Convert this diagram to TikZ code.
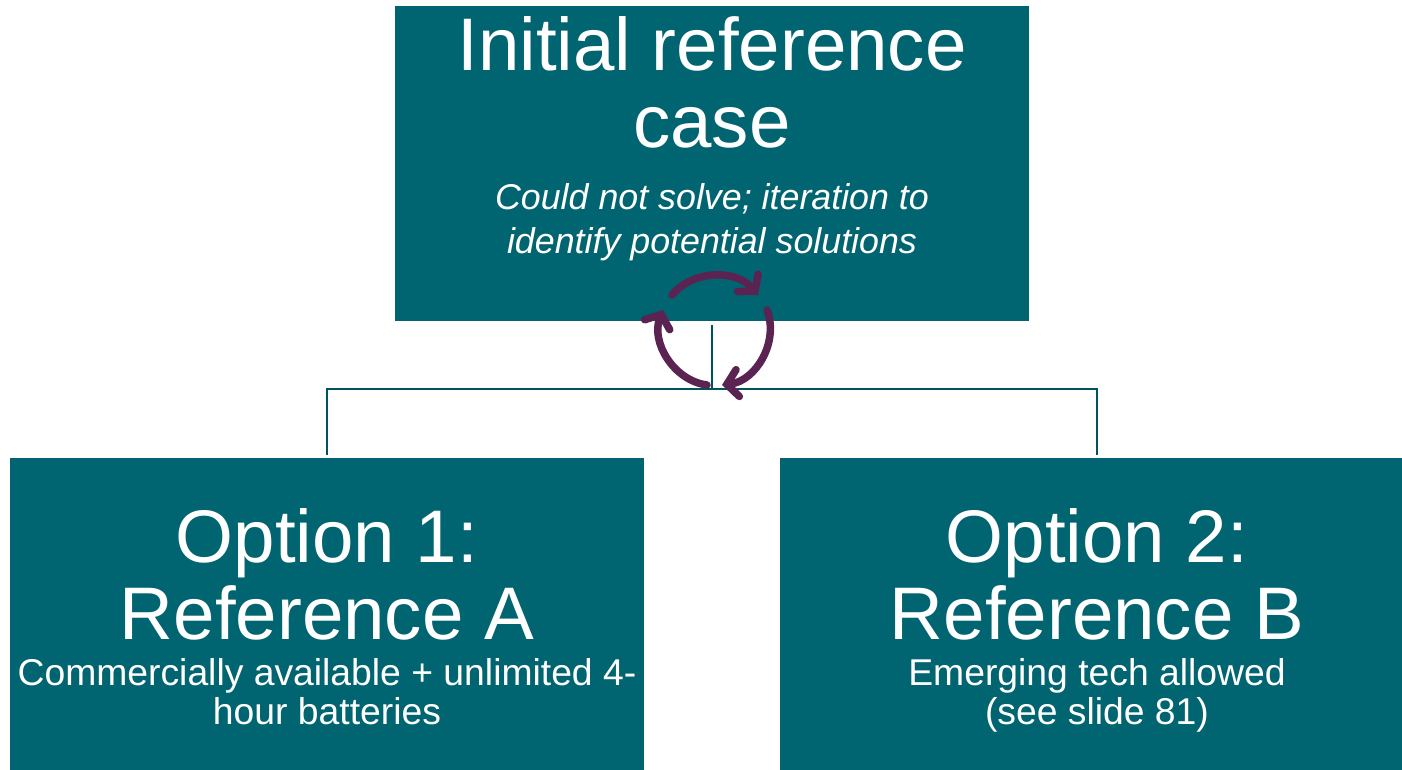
\documentclass[tikz,border=0pt]{standalone}
\usepackage{fontspec}
\setmainfont{Liberation Sans}
\usepackage{tikz}
\usetikzlibrary{positioning}
\usetikzlibrary{arrows.meta}
\definecolor{tealbox}{HTML}{006570}
\definecolor{tealline}{HTML}{00545C}
\definecolor{plum}{HTML}{5B2352}
\begin{document}
\begin{tikzpicture}
  [
    x=1pt,
    y=-1pt,
    box/.style={
       fill=tealbox,
       text=white,
       inner sep=0pt,
       anchor=north west
    },
    big/.style={
       text=white,
       align=center,
       font=\fontsize{74.5}{77}\selectfont
    },
    small/.style={
       text=white,
       align=center,
       font=\fontsize{37.3}{39}\selectfont
    },
    note/.style={
       text=white,
       align=center,
       font=\itshape\fontsize{35.8}{44}\selectfont
    },
    link/.style={
       draw=tealline,
       line width=2.5pt
    },
    cycle/.style={
       draw=plum,
       line width=7.5pt,
       line cap=round,
       -{Straight Barb[length=11pt,width=27pt,line cap=round]}
    }
  ]
  \useasboundingbox (0,0) rectangle (1402,770);
  \node (top) at (395,6) [box, minimum width=634pt, minimum height=315pt] {};
  \node (left) at (10,458) [box, minimum width=634pt, minimum height=312pt] {};
  \node (right) at (780,458) [box, minimum width=622pt, minimum height=312pt] {};

  \node (topTitle) at (712,82) [big] {Initial reference\\case};
  \node (topNote) at (712,222) [note] {Could not solve; iteration to\\identify potential solutions};
  \node (leftTitle) at (327,574) [big] {Option 1:\\Reference A};
  \node (leftNote) at (327,692) [small] {Commercially available + unlimited 4-\\hour batteries};
  \node (rightTitle) at (1097,574) [big] {Option 2:\\Reference B};
  \node (rightNote) at (1097,695) [small] {Emerging tech allowed\\(see slide 81)};

  \coordinate (stem) at (712,325);
  \coordinate (fork) at (712,389);
  \coordinate (leftEnd) at (327,455);
  \coordinate (rightEnd) at (1097,455);
  \draw [link] (stem) -- (fork);
  \draw [link] (leftEnd) |- (fork) -| (rightEnd);

  \coordinate (c1) at (672,295);
  \coordinate (c2) at (758,295);
  \coordinate (c3) at (767,310);
  \coordinate (c4) at (722,385);
  \coordinate (c5) at (707,385);
  \coordinate (c6) at (663,310);
  \draw [cycle] (c1) to [bend left=50] (c2);
  \draw [cycle] (c3) to [bend left=52] (c4);
  \draw [cycle] (c5) to [bend left=52] (c6);
\end{tikzpicture}
\end{document}
